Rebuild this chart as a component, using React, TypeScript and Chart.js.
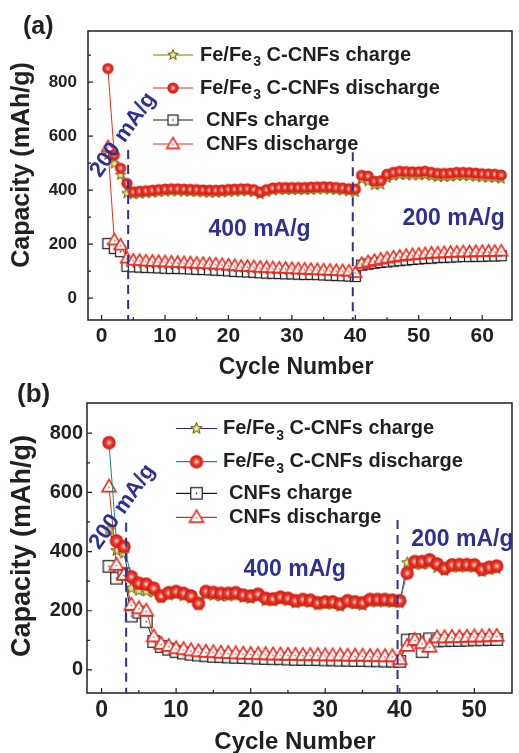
import React, { useEffect, useRef } from 'react';
import { Chart, registerables } from 'chart.js';

Chart.register(...registerables);

const FONT = '"Liberation Sans", Arial, Helvetica, sans-serif';
const INK = '#231f20';
const NAVY = '#2e3192';
const RED = '#ec2a1f';

// ---------- Panel (a) ----------
const feChargeA = [
  530, 498, 456, 388, 384, 386, 388, 390, 392, 394,
  395, 395, 394, 393, 392, 391, 390, 390, 391, 393,
  394, 395, 395, 392, 384, 392, 398, 400, 400, 400,
  400, 400, 401, 402, 403, 402, 400, 398, 395, 392,
  440, 432, 418, 420, 445, 452, 456, 455, 454, 454,
  456, 452, 448, 448, 449, 452, 452, 451, 449, 447,
  446, 445, 442,
];
const feDischargeA = [
  850, 530, 481, 425, 394, 396, 398, 400, 402, 404,
  405, 405, 404, 403, 402, 401, 400, 400, 401, 403,
  404, 405, 405, 402, 393, 402, 408, 410, 410, 410,
  410, 410, 411, 412, 413, 412, 410, 408, 405, 404,
  455, 452, 433, 435, 459, 466, 470, 469, 468, 468,
  470, 466, 462, 462, 463, 466, 466, 465, 463, 461,
  460, 459, 456,
];
const cnfChargeA = [
  202, 184, 172, 118, 116, 115, 114, 113, 112, 111,
  110, 110, 109, 108, 107, 106, 105, 104, 103, 101,
  99, 98, 97, 96, 94, 93, 92, 91, 90, 90,
  89, 88, 88, 87, 86, 85, 84, 83, 82, 80,
  122, 126, 129, 132, 134, 137, 139, 141, 143, 145,
  147, 148, 150, 151, 152, 153, 154, 154, 155, 155,
  156, 156, 157,
];
const cnfDischargeA = [
  560, 215, 196, 148, 140, 139, 137, 136, 135, 134,
  133, 132, 131, 130, 129, 128, 127, 126, 124, 122,
  120, 118, 117, 116, 114, 113, 112, 111, 110, 109,
  108, 107, 106, 105, 104, 103, 102, 101, 100, 94,
  128, 134, 139, 144, 148, 152, 155, 158, 160, 162,
  164, 166, 167, 168, 169, 170, 171, 171, 172, 172,
  173, 173, 174,
];
const xTicksA = [0, 10, 20, 30, 40, 50, 60];
const xMinorA = [5, 15, 25, 35, 45, 55];
const yTicksA = [0, 200, 400, 600, 800];
const yMinorA = [100, 300, 500, 700, 900];

// ---------- Panel (b) ----------
const feChargeB = [
  473, 403, 394, 276, 268, 266, 262, 243, 252, 255,
  250, 242, 220, 255, 252, 248, 249, 251, 244, 241,
  246, 233, 232, 237, 233, 226, 229, 227, 219, 222,
  221, 215, 225, 221, 218, 229, 229, 229, 228, 226,
  362, 355, 356, 358, 345, 336, 346, 347, 348, 346,
  332, 338, 342,
];
const feDischargeB = [
  768, 436, 417, 315, 293, 290, 276, 250, 261, 265,
  259, 250, 225, 265, 262, 259, 259, 261, 253, 250,
  256, 242, 240, 246, 242, 234, 238, 236, 227, 230,
  230, 223, 234, 230, 227, 238, 238, 238, 236, 234,
  327, 366, 366, 372, 358, 343, 355, 356, 356, 355,
  340, 347, 351,
];
const cnfChargeB = [
  350, 310, 325, 182, 195, 163, 96, 79, 70, 62,
  57, 53, 50, 48, 46, 45, 44, 43, 42, 41,
  40, 39, 38, 38, 37, 36, 36, 35, 35, 34,
  34, 33, 33, 32, 32, 31, 31, 30, 30, 29,
  101, 102, 62, 105, 98, 99, 100, 100, 101, 102,
  102, 103, 103,
];
const cnfDischargeB = [
  619, 355, 321, 220, 208, 200, 113, 88, 81, 73,
  70, 66, 63, 61, 60, 58, 57, 56, 55, 54,
  53, 53, 52, 52, 51, 51, 50, 50, 50, 49,
  49, 49, 48, 48, 48, 47, 47, 46, 46, 36,
  81, 101, 90, 78, 110, 110, 111, 111, 112, 113,
  113, 114, 115,
];
const xTicksB = [0, 10, 20, 30, 40, 50];
const xMinorB = [5, 15, 25, 35, 45];
const yTicksB = [0, 200, 400, 600, 800];
const yMinorB = [100, 300, 500, 700];

const seriesNames = [
  'Fe/Fe3 C-CNFs charge',
  'Fe/Fe3 C-CNFs discharge',
  'CNFs charge',
  'CNFs discharge',
];

// ---------- marker images ----------
function mk(w: number, h: number): [HTMLCanvasElement, CanvasRenderingContext2D] {
  const c = document.createElement('canvas');
  c.width = w;
  c.height = h;
  return [c, c.getContext('2d') as CanvasRenderingContext2D];
}
function circleImg(r: number) {
  const s = Math.ceil(r * 2) + 2;
  const [c, g] = mk(s, s);
  const m = s / 2;
  const gr = g.createRadialGradient(m, m, 0, m, m, r);
  gr.addColorStop(0, '#fff2ee');
  gr.addColorStop(0.18, '#f8b0a4');
  gr.addColorStop(0.45, '#f03a2c');
  gr.addColorStop(1, '#d0160e');
  g.fillStyle = gr;
  g.beginPath();
  g.arc(m, m, r, 0, Math.PI * 2);
  g.fill();
  return c;
}
function triImg(size: number) {
  const s = Math.ceil(size) + 4;
  const [c, g] = mk(s, s);
  const m = s / 2;
  const h = size * 0.866;
  g.beginPath();
  g.moveTo(m, m - h * 0.6);
  g.lineTo(m + size / 2, m + h * 0.4);
  g.lineTo(m - size / 2, m + h * 0.4);
  g.closePath();
  g.fillStyle = '#ffffff';
  g.fill();
  g.strokeStyle = RED;
  g.lineWidth = 1.6;
  g.stroke();
  g.fillStyle = RED;
  g.fillRect(m - 0.7, m + h * 0.05 - 0.7, 1.4, 1.4);
  return c;
}
function squareImg(size: number) {
  const s = Math.ceil(size) + 3;
  const [c, g] = mk(s, s);
  const m = s / 2;
  g.fillStyle = '#ffffff';
  g.fillRect(m - size / 2, m - size / 2, size, size);
  g.strokeStyle = '#1a1a1a';
  g.lineWidth = 1.2;
  g.strokeRect(m - size / 2, m - size / 2, size, size);
  g.fillStyle = '#1a1a1a';
  g.fillRect(m - 0.7, m - 0.7, 1.4, 1.4);
  return c;
}
function starImg(R: number) {
  const s = Math.ceil(R * 2) + 3;
  const [c, g] = mk(s, s);
  const m = s / 2;
  g.beginPath();
  for (let k = 0; k < 10; k++) {
    const a = -Math.PI / 2 + (k * Math.PI) / 5;
    const rr = k % 2 ? R * 0.45 : R;
    const px = m + rr * Math.cos(a);
    const py = m + rr * Math.sin(a);
    if (k === 0) g.moveTo(px, py);
    else g.lineTo(px, py);
  }
  g.closePath();
  const gr = g.createRadialGradient(m, m, 0, m, m, R);
  gr.addColorStop(0, '#f6f6c8');
  gr.addColorStop(0.5, '#c8c860');
  gr.addColorStop(1, '#8a8a20');
  g.fillStyle = gr;
  g.fill();
  g.strokeStyle = '#6b6b08';
  g.lineWidth = 1;
  g.stroke();
  return c;
}

type Note = { text: string; x: number; y: number; rot: number; size: number };
type Cfg = {
  label: string;
  top: number;
  height: number;
  padTop: number;
  padRight: number;
  yAxisW: number;
  xAxisH: number;
  xMin: number;
  xMax: number;
  yMin: number;
  yMax: number;
  xTicks: number[];
  xMinor: number[];
  yTicks: number[];
  yMinor: number[];
  tickFontX: number;
  tickFontY: number;
  padX: number;
  padY: number;
  yTitle: { x: number; y: number; size: number };
  xTitle: { x: number; y: number; size: number };
  labelPos: { x: number; y: number; size: number };
  legend: { rows: number[]; x0: number; x1: number; textFe: number; textCnf: number };
  dashes: { x: number; from: number }[];
  notes: Note[];
  values: number[][];
  lineColors: string[];
  sizes: { circle: number; tri: number; square: number; star: number };
};

const cfgA: Cfg = {
  label: '(a)',
  top: 0,
  height: 385,
  padTop: 31,
  padRight: 4,
  yAxisW: 88,
  xAxisH: 65,
  xMin: -2.14,
  xMax: 64.7,
  yMin: -81,
  yMax: 989,
  xTicks: xTicksA,
  xMinor: xMinorA,
  yTicks: yTicksA,
  yMinor: yMinorA,
  tickFontX: 21,
  tickFontY: 17,
  padX: 4,
  padY: 11,
  yTitle: { x: 22.5, y: 165, size: 25 },
  xTitle: { x: 296, y: 368, size: 23 },
  labelPos: { x: 23, y: 27, size: 25 },
  legend: { rows: [55, 88, 120, 144], x0: 153, x1: 193, textFe: 200, textCnf: 206 },
  dashes: [
    { x: 4.19, from: 548 },
    { x: 39.6, from: 540 },
  ],
  notes: [
    { text: '400 mA/g', x: 24.9, y: 252, rot: 0, size: 23 },
    { text: '200 mA/g', x: 55.5, y: 296, rot: 0, size: 23 },
    { text: '200 mA/g', x: 3.4, y: 604, rot: -55, size: 22 },
  ],
  values: [feChargeA, feDischargeA, cnfChargeA, cnfDischargeA],
  lineColors: ['#7f7f00', RED, '#1a1a1a', RED],
  sizes: { circle: 5.6, tri: 12.5, square: 10, star: 5.5 },
};

const cfgB: Cfg = {
  label: '(b)',
  top: 380,
  height: 373,
  padTop: 23,
  padRight: 2,
  yAxisW: 87,
  xAxisH: 60,
  xMin: -1.95,
  xMax: 55.05,
  yMin: -78,
  yMax: 902,
  xTicks: xTicksB,
  xMinor: xMinorB,
  yTicks: yTicksB,
  yMinor: yMinorB,
  tickFontX: 23,
  tickFontY: 20,
  padX: 4,
  padY: 4,
  yTitle: { x: 22.5, y: 166, size: 27 },
  xTitle: { x: 295, y: 362, size: 24 },
  labelPos: { x: 17, y: 15, size: 26 },
  legend: { rows: [48.5, 81.7, 113.3, 137.3], x0: 176, x1: 217, textFe: 223, textCnf: 229 },
  dashes: [
    { x: 3.3, from: 497 },
    { x: 39.7, from: 507 },
  ],
  notes: [
    { text: '400 mA/g', x: 25.9, y: 338, rot: 0, size: 23 },
    { text: '200 mA/g', x: 48.4, y: 439, rot: 0, size: 23 },
    { text: '200 mA/g', x: 2.8, y: 551, rot: -55, size: 22 },
  ],
  values: [feChargeB, feDischargeB, cnfChargeB, cnfDischargeB],
  lineColors: ['#2b2b8f', '#178a8a', '#1a1a1a', RED],
  sizes: { circle: 6.7, tri: 14, square: 11.5, star: 6 },
};

function bold(size: number) {
  return `bold ${size}px ${FONT}`;
}

function makeDecor(cfg: Cfg, imgs: HTMLCanvasElement[]) {
  return {
    id: 'decor' + cfg.label,
    afterDatasetsDraw(chart: any) {
      const { ctx, chartArea: a, scales } = chart;
      const xs = scales.x;
      const ys = scales.y;
      ctx.save();
      // frame
      ctx.strokeStyle = INK;
      ctx.lineWidth = 1.5;
      ctx.strokeRect(a.left, a.top, a.right - a.left, a.bottom - a.top);
      // inward ticks
      ctx.lineWidth = 1.2;
      ctx.beginPath();
      cfg.xTicks.forEach((v) => {
        const px = xs.getPixelForValue(v);
        ctx.moveTo(px, a.bottom);
        ctx.lineTo(px, a.bottom - 5);
      });
      cfg.xMinor.forEach((v) => {
        const px = xs.getPixelForValue(v);
        ctx.moveTo(px, a.bottom);
        ctx.lineTo(px, a.bottom - 3);
      });
      cfg.yTicks.forEach((v) => {
        const py = ys.getPixelForValue(v);
        ctx.moveTo(a.left, py);
        ctx.lineTo(a.left + 5, py);
      });
      cfg.yMinor.forEach((v) => {
        const py = ys.getPixelForValue(v);
        ctx.moveTo(a.left, py);
        ctx.lineTo(a.left + 3, py);
      });
      ctx.stroke();
      // dashed rate separators
      ctx.strokeStyle = NAVY;
      ctx.lineWidth = 2;
      ctx.setLineDash([9, 6]);
      cfg.dashes.forEach((d) => {
        const px = xs.getPixelForValue(d.x);
        ctx.beginPath();
        ctx.moveTo(px, ys.getPixelForValue(d.from));
        ctx.lineTo(px, a.bottom);
        ctx.stroke();
      });
      ctx.setLineDash([]);
      // rate annotations
      ctx.fillStyle = NAVY;
      ctx.textAlign = 'center';
      ctx.textBaseline = 'middle';
      cfg.notes.forEach((n) => {
        ctx.save();
        ctx.translate(xs.getPixelForValue(n.x), ys.getPixelForValue(n.y));
        ctx.rotate((n.rot * Math.PI) / 180);
        ctx.font = bold(n.size);
        ctx.fillText(n.text, 0, 0);
        ctx.restore();
      });
      // legend
      const L = cfg.legend;
      [0, 1, 2, 3].forEach((i, row) => {
        const y = L.rows[row];
        ctx.strokeStyle = cfg.lineColors[i];
        ctx.lineWidth = 1.2;
        ctx.beginPath();
        ctx.moveTo(L.x0, y);
        ctx.lineTo(L.x1, y);
        ctx.stroke();
        const img = imgs[i];
        ctx.drawImage(img, (L.x0 + L.x1) / 2 - img.width / 2, y - img.height / 2);
        ctx.fillStyle = INK;
        ctx.textAlign = 'left';
        ctx.textBaseline = 'middle';
        const name = seriesNames[i];
        if (name.startsWith('Fe/Fe3')) {
          let x = L.textFe;
          ctx.font = bold(20);
          ctx.fillText('Fe/Fe', x, y);
          x += ctx.measureText('Fe/Fe').width + 1;
          ctx.font = bold(14);
          ctx.fillText('3', x, y + 7.5);
          x += ctx.measureText('3').width;
          ctx.font = bold(20);
          ctx.fillText(name.slice(6), x, y);
        } else {
          ctx.font = bold(20);
          ctx.fillText(name, L.textCnf, y);
        }
      });
      ctx.restore();
    },
    afterDraw(chart: any) {
      const { ctx } = chart;
      ctx.save();
      ctx.fillStyle = INK;
      ctx.textBaseline = 'middle';
      ctx.save();
      ctx.translate(cfg.yTitle.x, cfg.yTitle.y);
      ctx.rotate(-Math.PI / 2);
      ctx.textAlign = 'center';
      ctx.font = bold(cfg.yTitle.size);
      ctx.fillText('Capacity (mAh/g)', 0, 0);
      ctx.restore();
      ctx.textAlign = 'center';
      ctx.font = bold(cfg.xTitle.size);
      ctx.fillText('Cycle Number', cfg.xTitle.x, cfg.xTitle.y);
      ctx.textAlign = 'left';
      ctx.font = bold(cfg.labelPos.size);
      ctx.fillText(cfg.label, cfg.labelPos.x, cfg.labelPos.y);
      ctx.restore();
    },
  };
}

function Panel({ cfg }: { cfg: Cfg }) {
  const ref = useRef<HTMLCanvasElement>(null);
  useEffect(() => {
    if (!ref.current) return;
    const imgs = [
      starImg(cfg.sizes.star),
      circleImg(cfg.sizes.circle),
      squareImg(cfg.sizes.square),
      triImg(cfg.sizes.tri),
    ];
    const orders = [2, 0, 3, 1];
    const datasets = cfg.values.map((vals, i) => ({
      label: seriesNames[i],
      data: vals.map((v, k) => ({ x: k + 1, y: v })),
      borderColor: cfg.lineColors[i],
      borderWidth: 1,
      pointStyle: imgs[i],
      pointRadius: 6,
      pointHoverRadius: 6,
      tension: 0,
      fill: false,
      order: orders[i],
    }));
    const tickX = { family: FONT, size: cfg.tickFontX, weight: 'bold' as const };
    const tickY = { family: FONT, size: cfg.tickFontY, weight: 'bold' as const };
    const chart = new Chart(ref.current, {
      type: 'line',
      data: { datasets },
      options: {
        responsive: false,
        animation: false,
        devicePixelRatio: 1,
        events: [],
        layout: { padding: { top: cfg.padTop, right: cfg.padRight, left: 0, bottom: 0 } },
        plugins: { legend: { display: false }, tooltip: { enabled: false } },
        scales: {
          x: {
            type: 'linear',
            min: cfg.xMin,
            max: cfg.xMax,
            afterBuildTicks: (s: any) => {
              s.ticks = cfg.xTicks.map((v) => ({ value: v }));
            },
            afterFit: (s: any) => {
              s.height = cfg.xAxisH;
            },
            grid: { display: false, drawTicks: false },
            border: { display: false },
            ticks: {
              font: tickX,
              color: INK,
              padding: cfg.padX,
              maxRotation: 0,
              autoSkip: false,
              callback: (v: any) => String(v),
            },
          },
          y: {
            type: 'linear',
            min: cfg.yMin,
            max: cfg.yMax,
            afterBuildTicks: (s: any) => {
              s.ticks = cfg.yTicks.map((v) => ({ value: v }));
            },
            afterFit: (s: any) => {
              s.width = cfg.yAxisW;
            },
            grid: { display: false, drawTicks: false },
            border: { display: false },
            ticks: {
              font: tickY,
              color: INK,
              padding: cfg.padY,
              autoSkip: false,
              callback: (v: any) => String(v),
            },
          },
        },
      } as any,
      plugins: [makeDecor(cfg, imgs)],
    });
    return () => chart.destroy();
  }, [cfg]);
  return (
    <canvas
      ref={ref}
      width={519}
      height={cfg.height}
      style={{ position: 'absolute', left: 0, top: cfg.top, width: 519, height: cfg.height }}
    />
  );
}

export default function App() {
  return (
    <div
      style={{
        position: 'absolute',
        left: 0,
        top: 0,
        width: 519,
        height: 753,
        background: '#ffffff',
        overflow: 'hidden',
      }}
    >
      <Panel cfg={cfgA} />
      <Panel cfg={cfgB} />
    </div>
  );
}
